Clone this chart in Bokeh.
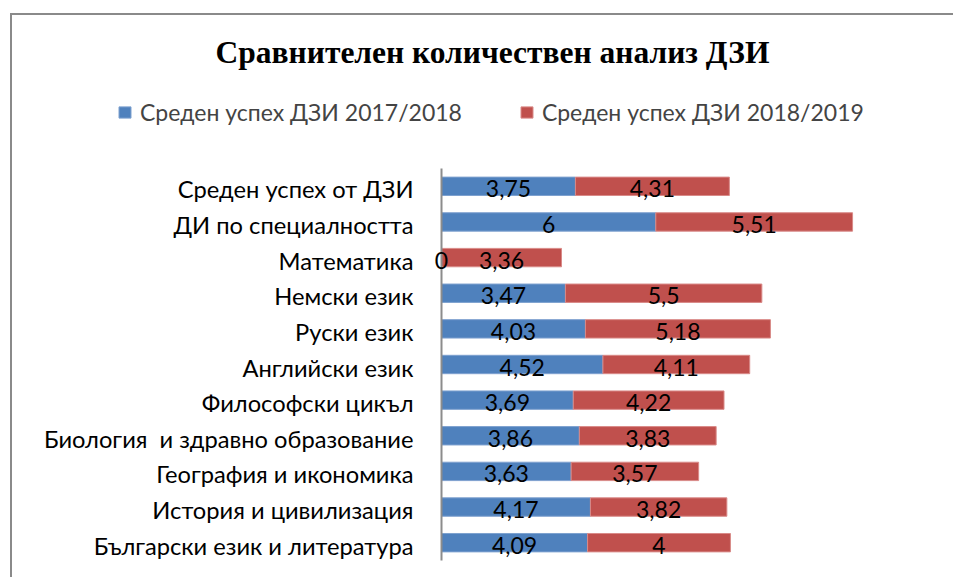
from bokeh.plotting import figure
from bokeh.models import ColumnDataSource, Legend, LegendItem, Label, Range1d
from bokeh.core.properties import value
from bokeh.embed import file_html
from bokeh.resources import INLINE

categories = [
    "Среден успех от ДЗИ",
    "ДИ по специалността",
    "Математика",
    "Немски език",
    "Руски език",
    "Английски език",
    "Философски цикъл",
    "Биология\u00a0 и здравно образование",
    "География и икономика",
    "История и цивилизация",
    "Български език и литература",
]
series_2017 = [3.75, 6, 0, 3.47, 4.03, 4.52, 3.69, 3.86, 3.63, 4.17, 4.09]
series_2018 = [4.31, 5.51, 3.36, 5.5, 5.18, 4.11, 4.22, 3.83, 3.57, 3.82, 4]
series_names = ["Среден успех ДЗИ 2017/2018", "Среден успех ДЗИ 2018/2019"]
title_text = "Сравнителен количествен анализ ДЗИ"
x_max = 14

BLUE = "#4F81BD"
RED = "#C0504D"
FONT = "Lato"
FS = "23px"
FS_CAT = "23.7px"

# canvas geometry (pixels)
W, H = 943, 564
AX_X = 429            # x of value 0
PLOT_R = 929          # x of value x_max
BAND_T, BAND_B = 153, 545
n = len(categories)
PXU = (PLOT_R - AX_X) / x_max
PITCH = (BAND_B - BAND_T) / n

def px_to_x(px):
    return (px - AX_X) / PXU

def px_to_y(py):
    return (BAND_B - py) / PITCH - 0.5

def fmt(v):
    return ("%g" % v).replace(".", ",")

ypos = [n - 1 - i for i in range(n)]
src = ColumnDataSource(dict(
    cat=categories,
    y=ypos,
    a_end=series_2017,
    b_end=[a + b for a, b in zip(series_2017, series_2018)],
    zero=[0] * n,
    a_mid=[a / 2 for a in series_2017],
    b_mid=[a + b / 2 for a, b in zip(series_2017, series_2018)],
    a_lab=[fmt(v) for v in series_2017],
    b_lab=[fmt(v) for v in series_2018],
))

p = figure(
    width=W, height=H,
    x_range=Range1d(px_to_x(0), px_to_x(W)),
    y_range=Range1d(px_to_y(H), px_to_y(0)),
    x_axis_location=None, y_axis_location=None,
    output_backend="svg", toolbar_location=None,
    min_border=0,
)
p.styles = {"margin-left": "10px", "margin-top": "13px",
            "border-left": "2px solid #8A8A8A", "border-top": "2px solid #8A8A8A"}
p.outline_line_color = None
p.grid.grid_line_color = None
p.background_fill_color = "white"
p.border_fill_color = "white"

ra = p.hbar(y="y", left="zero", right="a_end", height=0.516, source=src,
            fill_color=BLUE, line_color="#7EA1CF", line_width=1)
rb = p.hbar(y="y", left="a_end", right="b_end", height=0.516, source=src,
            fill_color=RED, line_color="#D98A88", line_width=1)

# category axis line
p.segment(x0=[0], y0=[-0.5], x1=[0], y1=[n - 0.5], line_color="#8C8C8C", line_width=2)

# category labels
p.text(x="zero", y="y", text="cat", source=src, x_offset=-28, y_offset=3,
       text_align="right", text_baseline="alphabetic",
       text_font=value(FONT), text_font_size=FS_CAT, text_color="black")

# data labels
for col_x, col_t in (("a_mid", "a_lab"), ("b_mid", "b_lab")):
    p.text(x=col_x, y="y", text=col_t, source=src, y_offset=2.5,
           text_align="center", text_baseline="alphabetic",
           text_font=value(FONT), text_font_size=FS, text_color="black")

legend = Legend(items=[LegendItem(label=series_names[0], renderers=[ra]),
                       LegendItem(label=series_names[1], renderers=[rb])],
                orientation="horizontal", location=(105, 453),
                glyph_width=15, glyph_height=14, label_standoff=8, spacing=57,
                padding=0, margin=0, border_line_color=None, background_fill_alpha=0,
                label_text_font=FONT, label_text_font_size=FS)
p.add_layout(legend, "center")

p.add_layout(Label(x=px_to_x(480), y=px_to_y(37), text=title_text,
                   text_font="Liberation Serif", text_font_style="bold",
                   text_font_size="31.5px", text_align="center",
                   text_baseline="alphabetic", text_color="black"))

open("out.html", "w").write(file_html(p, INLINE))
